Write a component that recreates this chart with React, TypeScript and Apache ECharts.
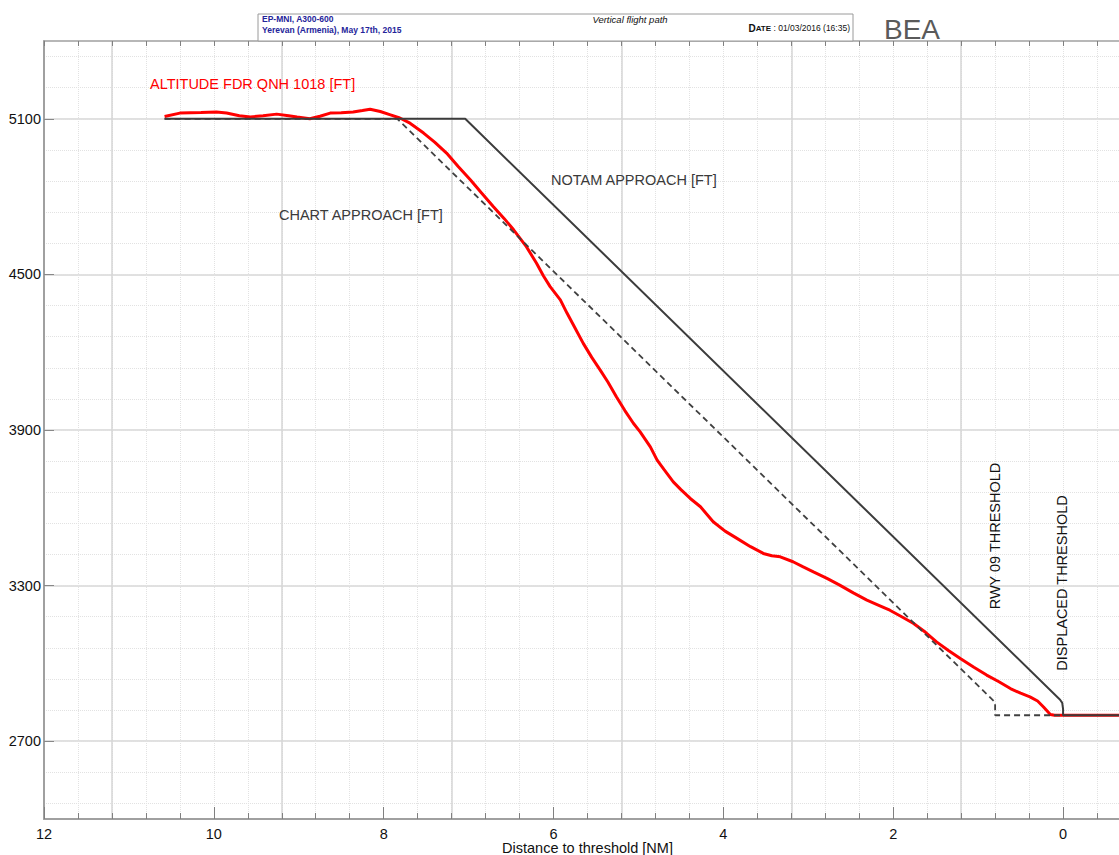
import React, { useEffect, useRef } from "react";
import * as echarts from "echarts";

// Distance to threshold [NM] and altitude [ft]
const fdrDistance = [
  10.58, 10.4, 10.15, 9.97, 9.85, 9.7, 9.57, 9.42, 9.26, 9.12, 9.02, 8.87, 8.75, 8.63, 8.5, 8.36,
  8.25, 8.16, 8.04, 7.92, 7.81, 7.69, 7.53, 7.4, 7.26, 7.12, 6.98, 6.85, 6.71, 6.58, 6.47, 6.32,
  6.2, 6.12, 6.04, 5.92, 5.84, 5.75, 5.65, 5.55, 5.45, 5.36, 5.26, 5.16, 5.06, 4.98, 4.86, 4.78,
  4.7, 4.59, 4.5, 4.39, 4.27, 4.12, 3.98, 3.84, 3.68, 3.53, 3.43, 3.33, 3.18, 3.06, 2.94, 2.78,
  2.63, 2.47, 2.31, 2.17, 2.04, 1.9, 1.76, 1.62, 1.49, 1.35, 1.21, 1.05, 0.9, 0.76, 0.62, 0.5,
  0.39, 0.3, 0.23, 0.15, 0.1, -0.8,
];
const fdrAltitude = [
  5109, 5122, 5124, 5126, 5122, 5112, 5107, 5112, 5118, 5112, 5107, 5100, 5110, 5122, 5123, 5126,
  5132, 5137, 5128, 5115, 5103, 5083, 5045, 5010, 4968, 4915, 4865, 4815, 4762, 4715, 4672, 4607,
  4543, 4495, 4453, 4402, 4350, 4295, 4234, 4180, 4131, 4085, 4028, 3975, 3926, 3893, 3835, 3784,
  3748, 3700, 3670, 3636, 3604, 3546, 3510, 3482, 3450, 3424, 3415, 3411, 3392, 3372, 3353, 3328,
  3302, 3272, 3244, 3224, 3205, 3180, 3154, 3120, 3083, 3050, 3019, 2985, 2955, 2930, 2903, 2885,
  2871, 2855, 2832, 2803, 2800, 2800,
];
const chartDistance = [10.58, 7.84, 0.8, 0.8, 0.0];
const chartAltitude = [5100, 5100, 2850, 2800, 2800];
const notamDistance = [10.58, 7.04, 0.035, 0.01, 0.0, 0.0, -0.8];
const notamAltitude = [5100, 5100, 2860, 2848, 2825, 2800, 2800];

// Tick label ranges
const xLabelMin = 0;
const xLabelMax = 12;
const xLabelStep = 2;
const yLabelMin = 2700;
const yLabelMax = 5100;
const yLabelStep = 600;

const FONT = "'Liberation Sans', Arial, sans-serif";

const pairs = (xs: number[], ys: number[]) => xs.map((x, i) => [x, ys[i]]);

export default function App() {
  const ref = useRef<HTMLDivElement>(null);

  useEffect(() => {
    if (!ref.current) return;
    const chart = echarts.init(ref.current, null, { renderer: "svg" });
    const transparent = "rgba(0,0,0,0)";
    const hidden = {
      show: false,
      axisLine: { show: false },
      axisTick: { show: false },
      axisLabel: { show: false },
      splitLine: { show: false },
    };
    // plot area: x from 12 NM (px 44) to -0.8 NM (px 1131); y from 5400 ft (px 41) to 2400 ft (px 819)
    const pxPerNm = 1087 / 12.8;
    const pxPerFt = 778 / 3000;
    const xMain = { type: "value", min: -0.8, max: 12, inverse: true, gridIndex: 0 } as any;

    const option: any = {
      animation: false,
      backgroundColor: "#ffffff",
      grid: [
        { left: 44, top: 41, width: 1087, height: 778, containLabel: false, outerBoundsMode: "none" },
        {
          left: 44,
          top: 41,
          width: pxPerNm * (xLabelMax - xLabelMin),
          height: 778,
          containLabel: false,
          outerBoundsMode: "none",
        },
        {
          left: 44,
          top: 41 + (5400 - yLabelMax) * pxPerFt,
          width: 1087,
          height: (yLabelMax - yLabelMin) * pxPerFt,
          containLabel: false,
          outerBoundsMode: "none",
        },
      ],
      xAxis: [
        {
          ...xMain,
          position: "bottom",
          interval: 0.4,
          axisLine: { show: true, onZero: false, lineStyle: { color: "#a0a0a0", width: 2 } },
          axisTick: { show: true, inside: true, length: 6, lineStyle: { color: "#808080" } },
          axisLabel: { show: false },
          splitLine: { show: true, lineStyle: { color: "#e2e2e2", type: "dotted", width: 1 } },
          name: "Distance to threshold [NM]",
          nameLocation: "middle",
          nameGap: 21,
          nameMoveOverlap: false,
          nameTextStyle: { fontSize: 14.5, fontFamily: FONT, color: "#111" },
        },
        {
          ...xMain,
          position: "bottom",
          interval: 0.4,
          axisLine: { show: false, onZero: false },
          axisTick: { show: false },
          axisLabel: { show: false },
          splitLine: {
            show: true,
            lineStyle: { color: ["#d6d6d6", transparent, transparent, transparent, transparent], width: 1.5 },
          },
        },
        {
          ...xMain,
          position: "top",
          interval: 0.4,
          axisLine: { show: true, onZero: false, lineStyle: { color: "#a0a0a0", width: 1.5 } },
          axisTick: { show: true, inside: true, length: 5, lineStyle: { color: "#808080" } },
          axisLabel: { show: false },
          splitLine: { show: false },
        },
        {
          type: "value",
          gridIndex: 1,
          min: xLabelMin,
          max: xLabelMax,
          interval: xLabelStep,
          inverse: true,
          position: "bottom",
          axisLine: { show: false, onZero: false },
          axisTick: { show: true, inside: true, length: 12, lineStyle: { color: "#808080" } },
          axisLabel: {
            show: true,
            margin: 7,
            fontSize: 14.5,
            fontFamily: FONT,
            color: "#111",
            formatter: (v: number) => String(v),
          },
          splitLine: { show: false },
        },
        { type: "value", gridIndex: 2, min: 0, max: 1, ...hidden },
      ],
      yAxis: [
        {
          type: "value",
          gridIndex: 0,
          min: 2400,
          max: 5400,
          interval: 300,
          position: "left",
          axisLine: { show: true, onZero: false, lineStyle: { color: "#a0a0a0", width: 2 } },
          axisTick: { show: false },
          axisLabel: { show: false },
          splitLine: { show: true, lineStyle: { color: [transparent, "#d6d6d6"], width: 1.5 } },
        },
        {
          type: "value",
          gridIndex: 0,
          min: 2400,
          max: 5400,
          interval: 60,
          position: "left",
          axisLine: { show: false, onZero: false },
          axisTick: { show: false },
          axisLabel: { show: false },
          splitLine: { show: true, lineStyle: { color: [transparent, "#e2e2e2"], type: "dotted", width: 1 } },
        },
        { type: "value", gridIndex: 1, min: 0, max: 1, ...hidden },
        {
          type: "value",
          gridIndex: 2,
          min: yLabelMin,
          max: yLabelMax,
          interval: yLabelStep,
          position: "left",
          axisLine: { show: false, onZero: false },
          axisTick: { show: true, inside: true, length: 10, lineStyle: { color: "#888" } },
          axisLabel: {
            show: true,
            margin: 3,
            fontSize: 14.5,
            fontFamily: FONT,
            color: "#111",
            formatter: (v: number) => String(v),
          },
          splitLine: { show: false },
        },
      ],
      series: [
        {
          name: "ALTITUDE FDR QNH 1018 [FT]",
          type: "line",
          xAxisIndex: 0,
          yAxisIndex: 0,
          data: pairs(fdrDistance, fdrAltitude),
          symbol: "none",
          smooth: false,
          lineStyle: { color: "#ff0000", width: 3 },
          z: 3,
        },
        {
          name: "CHART APPROACH [FT]",
          type: "line",
          xAxisIndex: 0,
          yAxisIndex: 0,
          data: pairs(chartDistance, chartAltitude),
          symbol: "none",
          lineStyle: { color: "#404040", width: 1.8, type: [6, 4] },
          z: 4,
        },
        {
          name: "NOTAM APPROACH [FT]",
          type: "line",
          xAxisIndex: 0,
          yAxisIndex: 0,
          data: pairs(notamDistance, notamAltitude),
          symbol: "none",
          lineStyle: { color: "#3c3c3c", width: 2 },
          z: 5,
        },
      ],
      graphic: [
        {
          type: "rect",
          shape: { x: 258, y: 14, width: 595, height: 27 },
          style: { fill: "#ffffff", stroke: "#9a9a9a", lineWidth: 1 },
          z: 10,
        },
        {
          type: "text",
          x: 262,
          y: 19,
          z: 11,
          style: { text: "EP-MNI, A300-600", font: `bold 8.5px ${FONT}`, fill: "#24249a", verticalAlign: "middle" },
        },
        {
          type: "text",
          x: 262,
          y: 30,
          z: 11,
          style: {
            text: "Yerevan (Armenia), May 17th, 2015",
            font: `bold 8.5px ${FONT}`,
            fill: "#24249a",
            verticalAlign: "middle",
          },
        },
        {
          type: "text",
          x: 630,
          y: 19,
          z: 11,
          style: {
            text: "Vertical flight path",
            font: `italic 9.5px ${FONT}`,
            fill: "#111",
            align: "center",
            verticalAlign: "middle",
          },
        },
        {
          type: "text",
          x: 850,
          y: 28,
          z: 11,
          style: {
            text: "{d|D}{a|ATE}{n| : 01/03/2016 (16:35)}",
            align: "right",
            verticalAlign: "middle",
            rich: {
              d: { font: `bold 10px ${FONT}`, fill: "#111" },
              a: { font: `bold 8px ${FONT}`, fill: "#111" },
              n: { font: `8.5px ${FONT}`, fill: "#111" },
            },
          },
        },
        {
          type: "text",
          x: 884,
          y: 29,
          z: 11,
          style: { text: "BEA", font: `28px ${FONT}`, fill: "#5a5a5a", verticalAlign: "middle" },
        },
        {
          type: "text",
          x: 150,
          y: 84,
          z: 11,
          style: { text: "ALTITUDE FDR QNH 1018 [FT]", font: `14.5px ${FONT}`, fill: "#ff0000", verticalAlign: "middle" },
        },
        {
          type: "text",
          x: 551,
          y: 180,
          z: 11,
          style: { text: "NOTAM APPROACH [FT]", font: `14.5px ${FONT}`, fill: "#3a3a3a", verticalAlign: "middle" },
        },
        {
          type: "text",
          x: 279,
          y: 215,
          z: 11,
          style: { text: "CHART APPROACH [FT]", font: `14.5px ${FONT}`, fill: "#3a3a3a", verticalAlign: "middle" },
        },
        {
          type: "text",
          x: 995,
          y: 536,
          rotation: Math.PI / 2,
          z: 11,
          style: {
            text: "RWY 09 THRESHOLD",
            font: `14.5px ${FONT}`,
            fill: "#111",
            align: "center",
            verticalAlign: "middle",
          },
        },
        {
          type: "text",
          x: 1062,
          y: 583,
          rotation: Math.PI / 2,
          z: 11,
          style: {
            text: "DISPLACED THRESHOLD",
            font: `14.5px ${FONT}`,
            fill: "#111",
            align: "center",
            verticalAlign: "middle",
          },
        },
      ],
    };

    chart.setOption(option);
    return () => chart.dispose();
  }, []);

  return (
    <div
      ref={ref}
      style={{ position: "absolute", left: 0, top: 0, width: 1119, height: 855, overflow: "hidden" }}
    />
  );
}
